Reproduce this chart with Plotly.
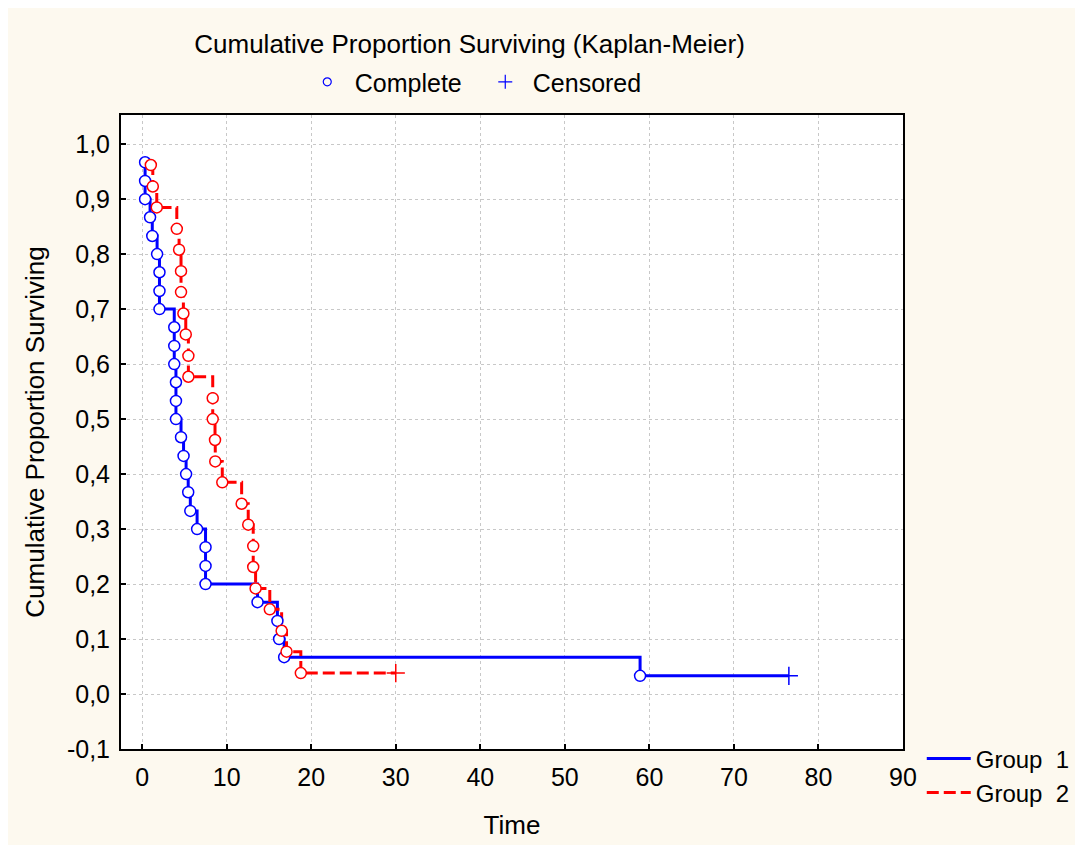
import plotly.graph_objects as go

# ---- data ----
g1_times = [0.35, 0.35, 0.35, 0.94, 1.2, 1.77, 2.05, 2.05, 2.05, 3.8, 3.8, 3.8, 4.0, 4.0, 4.0,
            4.6, 4.9, 5.2, 5.45, 5.7, 6.5, 7.5, 7.5, 7.5, 13.65, 16.0, 16.2, 16.8, 58.9]
g1_surv = [0.967, 0.933, 0.900, 0.867, 0.833, 0.800, 0.767, 0.733, 0.700, 0.667, 0.633,
           0.600, 0.567, 0.533, 0.500, 0.467, 0.433, 0.400, 0.367, 0.333, 0.300, 0.267, 0.233,
           0.200, 0.167, 0.133, 0.100, 0.067, 0.033]
g1_cens_time = [76.5]
g1_cens_surv = [0.033]

g2_times = [1.03, 1.26, 1.73, 4.1, 4.37, 4.6, 4.6, 4.88, 5.16, 5.47, 5.47, 8.35, 8.35, 8.62,
            8.65, 9.48, 11.77, 12.55, 13.14, 13.14, 13.42, 15.1, 16.5, 17.08, 18.77]
g2_surv = [0.962, 0.923, 0.885, 0.846, 0.808, 0.769, 0.731, 0.692, 0.654, 0.615, 0.577,
           0.538, 0.500, 0.462, 0.423, 0.385, 0.346, 0.308, 0.269, 0.231, 0.192, 0.154, 0.115,
           0.077, 0.038]
g2_cens_time = [30.0]
g2_cens_surv = [0.038]

x_ticks = [0, 10, 20, 30, 40, 50, 60, 70, 80, 90]
y_ticks = [-0.1, 0.0, 0.1, 0.2, 0.3, 0.4, 0.5, 0.6, 0.7, 0.8, 0.9, 1.0]
y_tick_labels = ["-0,1", "0,0", "0,1", "0,2", "0,3", "0,4", "0,5", "0,6", "0,7", "0,8", "0,9", "1,0"]

BLUE = "#0000FF"
RED = "#FF0000"
FONT = "Liberation Sans, Arial, sans-serif"

fig = go.Figure()

groups = [
    ("Group  1", g1_times, g1_surv, g1_cens_time, g1_cens_surv, BLUE, "solid"),
    ("Group  2", g2_times, g2_surv, g2_cens_time, g2_cens_surv, RED, "12px,5px"),
]
for name, t, s, ct, cs, col, dash in groups:
    fig.add_trace(go.Scatter(
        x=t + ct, y=s + cs, mode="lines", line=dict(color=col, width=3, dash=dash, shape="hv"),
        name=name, legend="legend2", showlegend=True, hoverinfo="skip"))
for name, t, s, ct, cs, col, dash in groups:
    fig.add_trace(go.Scatter(
        x=t, y=s, mode="markers",
        marker=dict(symbol="circle", size=11, color="white", line=dict(color=col, width=1.5)),
        showlegend=False, hoverinfo="skip"))
    fig.add_trace(go.Scatter(
        x=ct, y=cs, mode="markers",
        marker=dict(symbol="cross-thin-open", size=13, color=col, line=dict(color=col, width=1.5)),
        showlegend=False, hoverinfo="skip"))

# legend-only entries for the marker key
fig.add_trace(go.Scatter(
    x=[None], y=[None], mode="markers", name="Complete", legend="legend",
    marker=dict(symbol="circle-open", size=8, color=BLUE, line=dict(color=BLUE, width=1.2))))
fig.add_trace(go.Scatter(
    x=[None], y=[None], mode="markers", name="Censored", legend="legend",
    marker=dict(symbol="cross-thin-open", size=10, color=BLUE, line=dict(color=BLUE, width=1.2))))

axis_common = dict(
    showline=True, linecolor="black", linewidth=2, mirror=True,
    ticks="inside", ticklen=5, tickwidth=2, tickcolor="black",
    showgrid=True, gridcolor="#c8c8c8", gridwidth=1, griddash="3px,3px",
    zeroline=False, tickfont=dict(family=FONT, size=25, color="black"),
)

fig.update_layout(
    width=1083, height=845,
    margin=dict(l=113, r=188, t=107, b=104, autoexpand=False),
    paper_bgcolor="#FDF9EF", plot_bgcolor="white",
    font=dict(family=FONT, size=25, color="black"),
    title=dict(text="Cumulative Proportion Surviving (Kaplan-Meier)",
               x=0.4457, xref="paper", xanchor="center",
               y=1 - 36 / 845, yref="container", yanchor="middle",
               font=dict(family=FONT, size=26, color="black")),
    xaxis=dict(axis_common, range=[-2.5, 90], tickvals=x_ticks, ticklabelstandoff=5,
               title=dict(text="Time", standoff=26, font=dict(family=FONT, size=26))),
    yaxis=dict(axis_common, range=[-0.1, 1.053], tickvals=y_ticks, ticktext=y_tick_labels,
               ticklabelstandoff=4,
               title=dict(text="Cumulative Proportion Surviving", standoff=15,
                          font=dict(family=FONT, size=26))),
    legend=dict(orientation="h", x=0.2286, xanchor="left", y=1.052, yanchor="middle",
                bgcolor="rgba(0,0,0,0)", font=dict(family=FONT, size=25),
                itemwidth=45, entrywidth=118, tracegroupgap=0),
    legend2=dict(orientation="v", x=1.024, xanchor="left", y=0.02, yanchor="top",
                 bgcolor="rgba(0,0,0,0)", font=dict(family=FONT, size=24),
                 itemwidth=44, tracegroupgap=0),
)

fig.write_html("out.html")
